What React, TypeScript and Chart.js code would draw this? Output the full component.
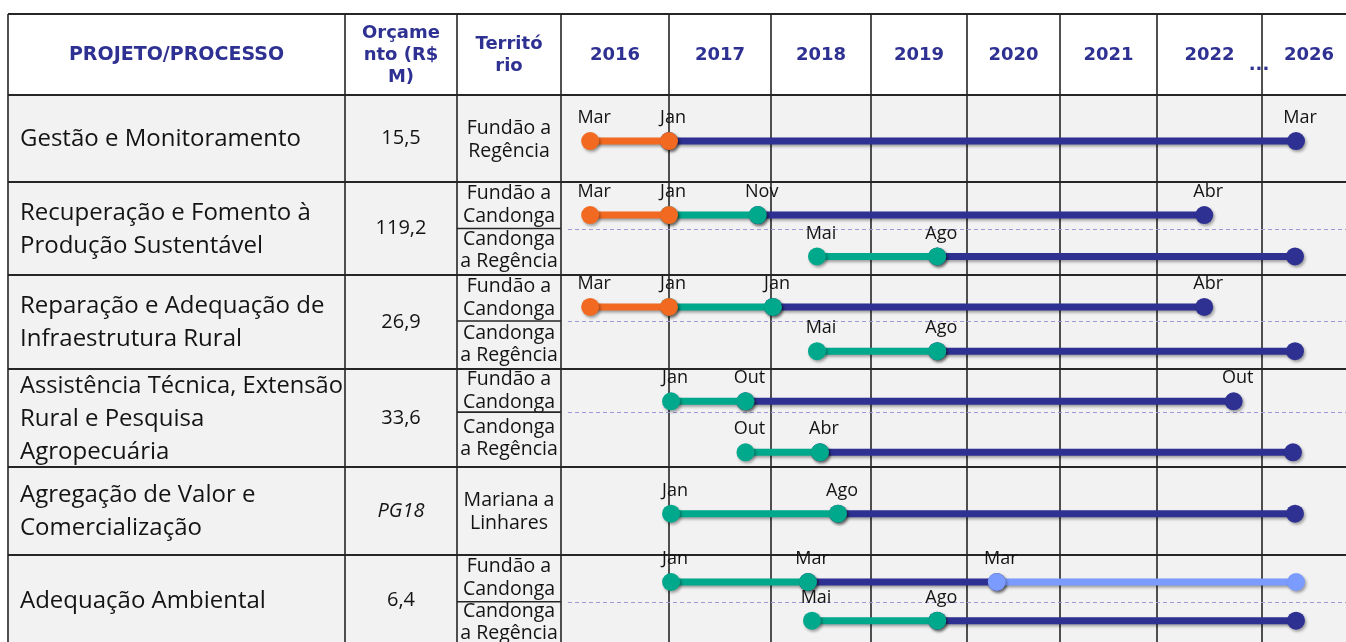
import React, { useEffect, useRef } from 'react';
import { Chart, registerables } from 'chart.js';

Chart.register(...registerables);

// ---------------- DATA ----------------
const YEARS = ['2016', '2017', '2018', '2019', '2020', '2021', '2022', '2026'];

const PROJECTS = [
  ['Gestão e Monitoramento'],
  ['Recuperação e Fomento à', 'Produção Sustentável'],
  ['Reparação e Adequação de', 'Infraestrutura Rural'],
  ['Assistência Técnica, Extensão', 'Rural e Pesquisa', 'Agropecuária'],
  ['Agregação de Valor e', 'Comercialização'],
  ['Adequação Ambiental'],
];

const BUDGETS = ['15,5', '119,2', '26,9', '33,6', 'PG18', '6,4'];

const TERRITORIES = [
  [['Fundão a', 'Regência']],
  [['Fundão a', 'Candonga'], ['Candonga', 'a Regência']],
  [['Fundão a', 'Candonga'], ['Candonga', 'a Regência']],
  [['Fundão a', 'Candonga'], ['Candonga', 'a Regência']],
  [['Mariana a', 'Linhares']],
  [['Fundão a', 'Candonga'], ['Candonga', 'a Regência']],
];

// one entry per timeline track
const TRACK_PROJECT = [0, 1, 1, 2, 2, 3, 3, 4, 5, 5];

// milestone positions (decimal years, 2026 column after the break)
const TRACK_DATES = [
  [2016.27, 2017.0, 2026.34],
  [2016.27, 2017.0, 2017.87, 2022.45],
  [2018.46, 2019.69, 2026.33],
  [2016.27, 2017.0, 2018.02, 2022.45],
  [2018.46, 2019.69, 2026.33],
  [2017.02, 2017.75, 2022.73],
  [2017.75, 2018.49, 2026.31],
  [2017.02, 2018.67, 2026.33],
  [2017.02, 2018.37, 2020.32, 2026.34],
  [2018.41, 2019.69, 2026.34],
];

const TRACK_MONTHS = [
  ['Mar', 'Jan', 'Mar'],
  ['Mar', 'Jan', 'Nov', 'Abr'],
  ['Mai', 'Ago', ''],
  ['Mar', 'Jan', 'Jan', 'Abr'],
  ['Mai', 'Ago', ''],
  ['Jan', 'Out', 'Out'],
  ['Out', 'Abr', ''],
  ['Jan', 'Ago', ''],
  ['Jan', 'Mar', 'Mar', ''],
  ['Mai', 'Ago', ''],
];

// phase of each segment between consecutive milestones
const TRACK_PHASES = [
  [0, 2],
  [0, 1, 2],
  [1, 2],
  [0, 1, 2],
  [1, 2],
  [1, 2],
  [1, 2],
  [1, 2],
  [1, 2, 3],
  [1, 2],
];

// ---------------- STYLE / LAYOUT ----------------
const PHASE_COLORS = ['#F26A21', '#00A88C', '#2E3192', '#7B9BFF'];
const PHASE_ORDER = [0, 1, 3, 2];

const W = 1346;
const H = 642;
const TABLE_LEFT = 8;
const TABLE_TOP = 14;
const HEAD_BOTTOM = 95;
const COL_EDGES = [8, 345, 457, 561];
const YEAR_W = [108, 102, 100, 96, 93, 97, 105, 100];
const ROW_H = [87, 93, 94, 98, 88, 90];
const SPLIT_FRAC = [0, 0.5, 0.49, 0.44, 0, 0.52];
const TRACK_FRAC = [0.53, 0.355, 0.8, 0.34, 0.81, 0.33, 0.85, 0.53, 0.3, 0.73];

const HEAD_COLOR = '#2E3192';
const TEXT_COLOR = '#141414';
const GRID_COLOR = '#262626';
const BODY_FONT = '"Open Sans", "Noto Sans", sans-serif';
const HEAD_FONT = '"DejaVu Sans", Verdana, sans-serif';

const yearStart = (i: number) => YEAR_W.slice(0, i).reduce((a, b) => a + b, 0);
const rowStart = (i: number) => ROW_H.slice(0, i).reduce((a, b) => a + b, 0);

function dateToX(v: number) {
  const y = Math.floor(v + 1e-9);
  const idx = YEARS.indexOf(String(y));
  return yearStart(idx) + (v - y) * YEAR_W[idx];
}

function trackY(t: number) {
  const p = TRACK_PROJECT[t];
  return rowStart(p) + TRACK_FRAC[t] * ROW_H[p];
}

function buildDatasets() {
  const sets: any[] = [];
  TRACK_DATES.forEach((dates, t) => {
    const y = trackY(t);
    TRACK_PHASES[t].forEach((phase, s) => {
      const color = PHASE_COLORS[phase];
      sets.push({
        data: [
          { x: dateToX(dates[s]), y },
          { x: dateToX(dates[s + 1]), y },
        ],
        showLine: true,
        borderColor: color,
        backgroundColor: color,
        borderWidth: 7,
        borderCapStyle: 'butt',
        pointRadius: 9,
        pointHoverRadius: 9,
        pointBorderWidth: 0,
        pointBackgroundColor: color,
        order: PHASE_ORDER[phase],
        clip: false,
      });
    });
  });
  return sets;
}

function drawLines(ctx: CanvasRenderingContext2D, lines: string[], cx: number, cy: number, lh: number) {
  const n = lines.length;
  lines.forEach((l, i) => {
    ctx.fillText(l, cx, cy + (i - (n - 1) / 2) * lh);
  });
}

const tablePlugin = {
  id: 'ganttTable',
  beforeDatasetsDraw(chart: any) {
    const { ctx } = chart;
    const xs = chart.scales.x;
    const ys = chart.scales.y;
    const right = W;
    const bottom = H + 10;
    const rowEdges = ROW_H.map((_, i) => ys.getPixelForValue(rowStart(i))).concat([ys.getPixelForValue(rowStart(ROW_H.length))]);
    const yearEdges = YEARS.map((_, i) => xs.getPixelForValue(yearStart(i)));

    ctx.save();
    ctx.fillStyle = '#ffffff';
    ctx.fillRect(0, 0, W, H);
    ctx.fillStyle = '#F2F2F2';
    ctx.fillRect(TABLE_LEFT, HEAD_BOTTOM, right - TABLE_LEFT, bottom - HEAD_BOTTOM);

    // header text
    ctx.fillStyle = HEAD_COLOR;
    ctx.textAlign = 'center';
    ctx.textBaseline = 'middle';
    const headMid = (TABLE_TOP + HEAD_BOTTOM) / 2 + 1;
    ctx.font = `bold 19px ${HEAD_FONT}`;
    ctx.fillText('PROJETO/PROCESSO', (COL_EDGES[0] + COL_EDGES[1]) / 2, headMid);
    ctx.font = `bold 18px ${HEAD_FONT}`;
    drawLines(ctx, ['Orçame', 'nto (R$', 'M)'], (COL_EDGES[1] + COL_EDGES[2]) / 2, headMid, 22);
    drawLines(ctx, ['Territó', 'rio'], (COL_EDGES[2] + COL_EDGES[3]) / 2, headMid, 22);
    YEARS.forEach((yr, i) => {
      ctx.fillText(yr, yearEdges[i] + YEAR_W[i] / 2 + (i === YEARS.length - 1 ? -3 : 0), headMid);
    });
    ctx.textBaseline = 'alphabetic';
    ctx.fillText('...', yearEdges[YEARS.length - 1] - 3, 70);

    // body text
    ctx.fillStyle = TEXT_COLOR;
    PROJECTS.forEach((lines, p) => {
      const top = rowEdges[p];
      const h = rowEdges[p + 1] - top;
      const cy = top + h / 2 + 1;
      ctx.textBaseline = 'middle';
      ctx.textAlign = 'left';
      ctx.font = `24px ${BODY_FONT}`;
      lines.forEach((l, i) => {
        ctx.fillText(l, 20, cy + (i - (lines.length - 1) / 2) * 33, COL_EDGES[1] - 22);
      });
      ctx.textAlign = 'center';
      ctx.font = `${BUDGETS[p] === 'PG18' ? 'italic ' : ''}20px ${BODY_FONT}`;
      ctx.fillText(BUDGETS[p], (COL_EDGES[1] + COL_EDGES[2]) / 2, cy - 1);
      ctx.font = `19.5px ${BODY_FONT}`;
      const terr = TERRITORIES[p];
      const tcx = (COL_EDGES[2] + COL_EDGES[3]) / 2;
      if (terr.length === 1) {
        drawLines(ctx, terr[0], tcx, cy, 23);
      } else {
        const split = top + SPLIT_FRAC[p] * h;
        drawLines(ctx, terr[0], tcx, (top + split) / 2, 23);
        drawLines(ctx, terr[1], tcx, (split + top + h) / 2 - 1, 22);
      }
    });

    // grid
    ctx.strokeStyle = GRID_COLOR;
    ctx.lineWidth = 2;
    ctx.beginPath();
    [TABLE_TOP, ...rowEdges.slice(0, ROW_H.length)].forEach((y) => {
      ctx.moveTo(TABLE_LEFT, y);
      ctx.lineTo(right, y);
    });
    ctx.stroke();
    ctx.lineWidth = 1.6;
    ctx.beginPath();
    [...COL_EDGES, ...yearEdges.slice(1)].forEach((x) => {
      ctx.moveTo(x, TABLE_TOP);
      ctx.lineTo(x, bottom);
    });
    // territory sub-rows
    PROJECTS.forEach((_, p) => {
      if (TERRITORIES[p].length > 1) {
        const top = rowEdges[p];
        const y = top + SPLIT_FRAC[p] * (rowEdges[p + 1] - top);
        ctx.moveTo(COL_EDGES[2], y);
        ctx.lineTo(COL_EDGES[3], y);
      }
    });
    ctx.stroke();

    ctx.strokeStyle = '#9A9AD8';
    ctx.lineWidth = 1.2;
    ctx.setLineDash([4, 3]);
    ctx.beginPath();
    PROJECTS.forEach((_, p) => {
      if (TERRITORIES[p].length > 1) {
        const top = rowEdges[p];
        const y = Math.round(top + SPLIT_FRAC[p] * (rowEdges[p + 1] - top)) + 0.5;
        ctx.moveTo(COL_EDGES[3] + 7, y);
        ctx.lineTo(right, y);
      }
    });
    ctx.stroke();
    ctx.restore();
  },
  beforeDatasetDraw(chart: any) {
    const { ctx } = chart;
    ctx.save();
    ctx.shadowColor = 'rgba(0,0,0,0.35)';
    ctx.shadowBlur = 3;
    ctx.shadowOffsetX = 1.5;
    ctx.shadowOffsetY = 2;
  },
  afterDatasetDraw(chart: any) {
    chart.ctx.restore();
  },
  afterDatasetsDraw(chart: any) {
    const { ctx } = chart;
    const xs = chart.scales.x;
    const ys = chart.scales.y;
    ctx.save();
    ctx.fillStyle = TEXT_COLOR;
    ctx.font = `18px ${BODY_FONT}`;
    ctx.textAlign = 'center';
    ctx.textBaseline = 'middle';
    TRACK_DATES.forEach((dates, t) => {
      const py = ys.getPixelForValue(trackY(t)) - 23;
      dates.forEach((d, i) => {
        const label = TRACK_MONTHS[t][i];
        if (!label) return;
        ctx.fillText(label, xs.getPixelForValue(dateToX(d)) + 4, py);
      });
    });
    ctx.restore();
  },
};

export default function App() {
  const ref = useRef<HTMLCanvasElement>(null);
  useEffect(() => {
    const chart = new Chart(ref.current as HTMLCanvasElement, {
      type: 'line',
      data: { datasets: buildDatasets() },
      options: {
        animation: false,
        responsive: false,
        events: [],
        layout: { autoPadding: false, padding: { left: COL_EDGES[3], top: HEAD_BOTTOM, right: 0, bottom: 0 } },
        plugins: { legend: { display: false }, tooltip: { enabled: false } },
        scales: {
          x: { type: 'linear', display: false, min: 0, max: W - COL_EDGES[3] },
          y: { type: 'linear', display: false, min: 0, max: H - HEAD_BOTTOM, reverse: true },
        },
      },
      plugins: [tablePlugin],
    });
    if ((document as any).fonts) {
      Promise.all([
        document.fonts.load(`18px ${BODY_FONT}`),
        document.fonts.load(`italic 18px ${BODY_FONT}`),
        document.fonts.load(`bold 18px ${HEAD_FONT}`),
      ]).then(() => chart.draw()).catch(() => {});
    }
    return () => chart.destroy();
  }, []);
  return (
    <div style={{ position: 'fixed', left: 0, top: 0, width: W, height: H, background: '#fff', overflow: 'hidden' }}>
      <canvas ref={ref} width={W} height={H} style={{ display: 'block', width: W, height: H }} />
    </div>
  );
}
